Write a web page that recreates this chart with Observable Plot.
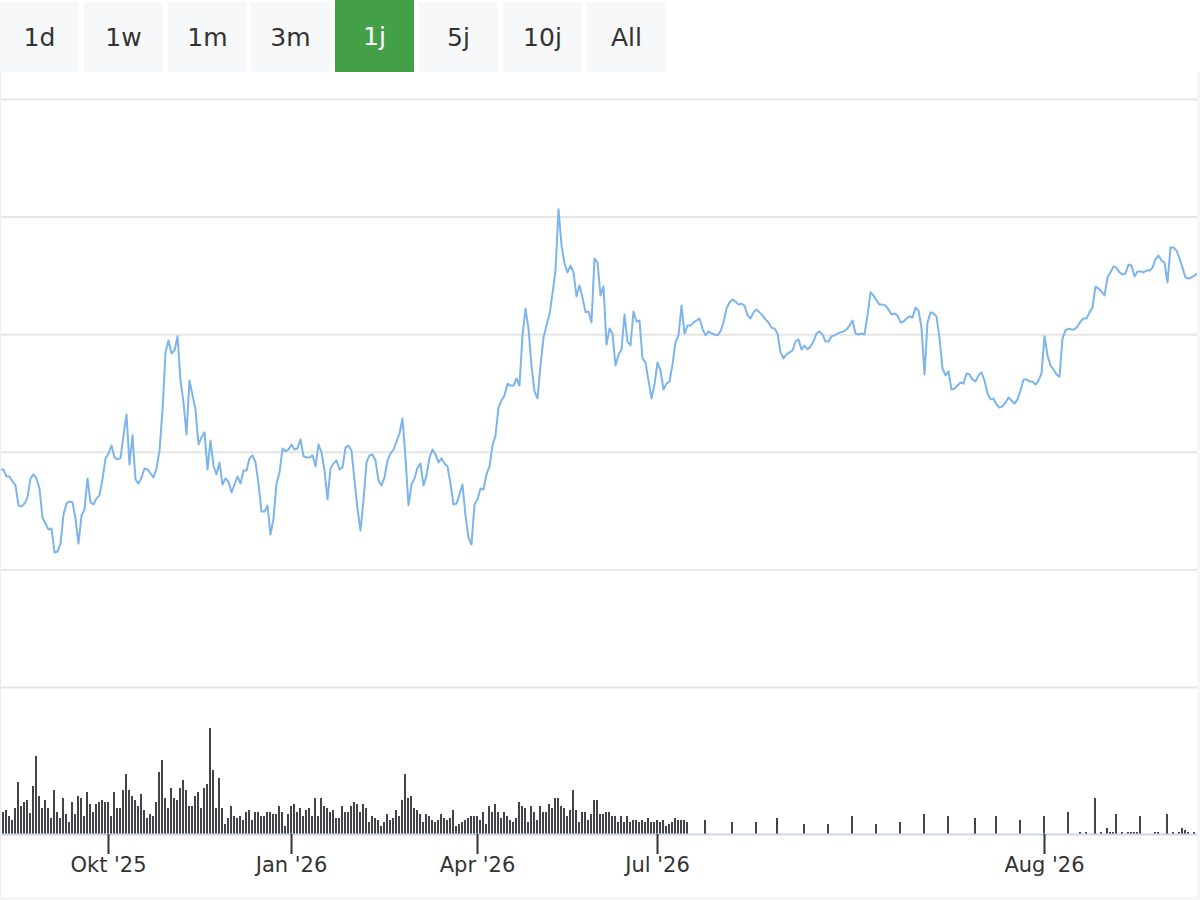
<!DOCTYPE html>
<html>
<head>
<meta charset="utf-8">
<script src="https://cdn.jsdelivr.net/npm/d3@7"></script>
<script src="https://cdn.jsdelivr.net/npm/@observablehq/plot@0.6"></script>
<style>
  html, body { margin: 0; padding: 0; background: #ffffff; }
  #wrap { position: relative; width: 1200px; height: 900px; overflow: hidden; font-family: "DejaVu Sans", sans-serif; }
  #buttons { position: relative; height: 72px; }
  .btn { position: absolute; top: 2px; height: 70px; width: 79px; background: #f7f8f9; color: #333333;
         font-size: 25px; display: flex; align-items: center; justify-content: center; }
  .btn.sel { top: 0; height: 72px; background: #43a047; color: #ffffff; }
  #charts svg { display: block; }
  .edge { position: absolute; background: #f6f6f6; }
</style>
</head>
<body>
<div id="wrap">
  <div id="buttons"></div>
  <div id="charts"></div>
  <div class="edge" style="left:0;top:72px;width:1px;height:828px;background:#ececec"></div>
  <div class="edge" style="right:0;top:72px;width:3px;height:828px"></div>
  <div class="edge" style="left:0;bottom:0;width:1200px;height:3px"></div>
</div>
<script>
// ---- range selector ----
const rangeButtons = ["1d", "1w", "1m", "3m", "1j", "5j", "10j", "All"];
const selectedRange = "1j";

// ---- x axis (ordinal positions) ----
const tickIndex = [36, 97, 159, 219, 348];
const tickLabels = ["Okt '25", "Jan '26", "Apr '26", "Jul '26", "Aug '26"];

// ---- price grid ----
const priceTicks = [20, 25, 30, 35, 40, 45];

// ---- price series (one value per ordinal point) ----
const price = [
  29.27, 29.27, 28.97, 28.97, 28.76, 28.59, 27.74, 27.70, 27.82, 28.08,
  28.89, 29.06, 28.89, 28.46, 27.22, 26.97, 26.72, 26.76, 25.74, 25.78,
  26.12, 27.35, 27.82, 27.91, 27.87, 27.18, 26.12, 27.31, 27.57, 28.89,
  27.87, 27.78, 28.04, 28.17, 28.85, 29.74, 29.95, 30.29, 29.78, 29.70,
  29.74, 30.72, 31.61, 29.48, 30.72, 28.85, 28.67, 28.93, 29.31, 29.27,
  29.10, 28.93, 29.31, 30.08, 31.78, 34.25, 34.75, 34.20, 34.33, 34.93,
  33.05, 32.12, 30.76, 33.05, 32.42, 31.82, 30.33, 30.63, 30.85, 29.27,
  30.50, 29.44, 29.06, 29.57, 28.63, 28.89, 28.76, 28.30, 28.63, 28.97,
  28.67, 29.23, 29.23, 29.74, 29.87, 29.57, 28.67, 27.48, 27.48, 27.74,
  26.50, 27.18, 28.67, 29.14, 30.16, 30.04, 30.12, 30.33, 30.12, 30.16,
  30.55, 29.83, 29.78, 29.78, 29.87, 29.40, 30.33, 30.00, 29.23, 28.00,
  29.31, 29.52, 29.65, 29.27, 29.35, 30.20, 30.29, 30.08, 28.80, 27.61,
  26.67, 27.95, 29.57, 29.87, 29.91, 29.65, 28.80, 28.59, 28.93, 29.65,
  29.95, 30.12, 30.46, 30.80, 31.44, 29.74, 27.74, 28.63, 28.89, 29.35,
  29.52, 28.59, 29.02, 29.78, 30.12, 29.91, 29.57, 29.74, 29.52, 29.40,
  28.67, 27.78, 27.82, 28.21, 28.63, 27.31, 26.37, 26.08, 27.78, 28.00,
  28.46, 28.42, 29.06, 29.40, 30.29, 30.72, 31.90, 32.20, 32.42, 32.92,
  32.84, 32.84, 33.14, 32.84, 34.97, 36.11, 35.26, 33.69, 32.59, 32.29,
  33.69, 34.88, 35.39, 35.86, 36.75, 37.73, 40.33, 38.80, 38.02, 37.65,
  37.94, 37.65, 36.63, 37.09, 36.58, 35.95, 35.99, 35.52, 38.24, 38.07,
  36.67, 37.05, 34.58, 35.26, 35.05, 33.69, 34.16, 34.37, 35.86, 34.71,
  34.54, 35.99, 35.56, 35.60, 33.99, 33.82, 33.05, 32.29, 32.88, 33.82,
  33.48, 32.67, 32.92, 33.01, 33.73, 34.67, 34.97, 36.24, 35.05, 35.39,
  35.39, 35.52, 35.60, 35.69, 35.26, 34.97, 35.14, 35.05, 35.01, 34.97,
  35.14, 35.52, 36.11, 36.37, 36.50, 36.41, 36.28, 36.32, 36.24, 35.82,
  35.69, 35.95, 36.07, 35.95, 35.82, 35.65, 35.52, 35.30, 35.26, 35.05,
  34.25, 33.99, 34.16, 34.25, 34.33, 34.71, 34.80, 34.37, 34.54, 34.37,
  34.50, 34.71, 35.05, 35.14, 35.01, 34.71, 34.71, 34.93, 34.97, 35.05,
  35.10, 35.14, 35.22, 35.39, 35.60, 35.05, 35.01, 35.05, 35.01, 35.82,
  36.80, 36.67, 36.45, 36.28, 36.28, 36.24, 36.07, 35.86, 35.90, 35.82,
  35.52, 35.56, 35.69, 35.78, 35.73, 36.15, 36.03, 35.30, 33.31, 35.52,
  35.95, 35.90, 35.78, 34.84, 33.56, 33.27, 33.44, 32.67, 32.71, 32.84,
  32.97, 32.92, 33.35, 33.31, 33.10, 33.01, 33.27, 33.40, 33.05, 32.50,
  32.25, 32.29, 32.03, 31.90, 31.95, 32.12, 32.33, 32.20, 32.07, 32.25,
  32.63, 33.10, 33.10, 33.01, 33.01, 32.88, 33.05, 33.35, 34.93, 34.12,
  33.69, 33.52, 33.31, 33.22, 34.84, 35.18, 35.26, 35.22, 35.22, 35.35,
  35.56, 35.69, 35.69, 35.95, 36.15, 37.05, 36.96, 36.84, 36.67, 37.43,
  37.65, 37.90, 37.85, 37.65, 37.56, 37.60, 37.98, 37.94, 37.47, 37.69,
  37.69, 37.65, 37.73, 37.73, 37.85, 38.20, 38.37, 38.15, 38.07, 37.22,
  38.71, 38.71, 38.58, 38.24, 37.85, 37.43, 37.39, 37.43, 37.52, 37.60
];

// ---- volume (thousands): daily values from point 0, then sparse late values ----
const volumeDaily = [
  32, 22, 24, 18, 14, 26, 52, 28, 32, 34,
  21, 48, 78, 38, 26, 34, 26, 16, 44, 22,
  16, 36, 20, 12, 32, 20, 38, 36, 18, 42,
  30, 22, 30, 32, 34, 32, 32, 18, 42, 26,
  26, 44, 60, 44, 38, 34, 28, 40, 24, 16,
  20, 18, 32, 62, 74, 36, 26, 46, 36, 34,
  46, 54, 44, 28, 28, 38, 42, 26, 46, 50,
  106, 64, 26, 56, 26, 10, 16, 28, 18, 16,
  18, 14, 22, 24, 14, 22, 22, 18, 18, 22,
  22, 20, 20, 28, 22, 8, 20, 28, 30, 22,
  26, 18, 24, 26, 18, 36, 18, 36, 28, 26,
  22, 24, 16, 16, 28,
  22, 22, 28, 32, 30, 22, 30, 26, 12, 18,
  16, 14, 8, 12, 20, 14, 16, 24, 18, 34,
  60, 36, 38, 26, 24, 20, 12, 20, 18, 14,
  12, 14, 20, 16, 14, 16, 24, 8, 10, 12,
  14, 16, 18, 18, 18, 14, 22, 10, 28, 22,
  30, 22, 16, 22, 18, 14, 12, 16, 32, 28,
  26, 12, 28, 22, 14, 28, 22, 22, 30, 26,
  36, 36, 28, 26, 18, 24, 44, 24, 12, 22,
  22, 14, 20, 34, 34, 20, 20, 22, 22, 18,
  18, 12, 18, 12, 18, 12, 14, 14, 12, 14,
  12, 16, 12, 12, 14, 12, 14, 8, 10, 12,
  16, 14, 14, 14, 12
];
const lateVolumeIndex = [235, 244, 252, 259, 268, 276, 284, 292, 300, 308, 316, 325, 332, 340, 348, 356,
  360, 362, 365, 367, 369, 370, 371, 372, 374, 376, 377, 378, 379, 380, 385, 386, 389, 391, 393, 394, 395, 396, 398];
const lateVolume = [14, 12, 12, 16, 10, 10, 18, 10, 12, 20, 18, 16, 18, 14, 18, 22,
  2, 2, 36, 2, 6, 2, 2, 20, 2, 2, 2, 2, 2, 18, 2, 2, 20, 2, 2, 6, 4, 2, 2];

// ---- build tables ----
const priceData = price.map((v, i) => ({i, v}));
const volData = volumeDaily.map((v, i) => ({i, v}))
  .concat(lateVolumeIndex.map((idx, k) => ({i: idx, v: lateVolume[k]})));
const labelOf = new Map(tickIndex.map((t, k) => [t, tickLabels[k]]));
const xDomain = [0, price.length - 1];

// ---- buttons ----
const bar = document.getElementById("buttons");
rangeButtons.forEach((b, k) => {
  const d = document.createElement("div");
  d.className = "btn" + (b === selectedRange ? " sel" : "");
  d.style.left = Math.round(k * 83.8) + "px";
  d.textContent = b;
  bar.appendChild(d);
});

const common = {
  width: 1200,
  marginLeft: 0,
  marginRight: 3,
  style: {fontFamily: "DejaVu Sans, sans-serif", fontSize: "21px", color: "#333333", background: "transparent", overflow: "visible"}
};

const pricePlot = Plot.plot({
  ...common,
  height: 616,
  marginTop: 27,
  marginBottom: 1,
  x: {domain: xDomain, axis: null},
  y: {domain: [20, 45], axis: null},
  marks: [
    Plot.gridY(priceTicks, {stroke: "#e6e6e6", strokeOpacity: 1, strokeWidth: 2}),
    Plot.line(priceData, {x: "i", y: "v", stroke: "#7cb5ec", strokeWidth: 2, strokeLinejoin: "round"})
  ]
});

const volPlot = Plot.plot({
  ...common,
  height: 212,
  marginTop: 0,
  marginBottom: 66,
  x: {domain: xDomain, axis: null},
  y: {domain: [0, 146], axis: null},
  marks: [
    Plot.ruleX(volData, {x: "i", y1: 0, y2: "v", stroke: "#434348", strokeWidth: 2, dx: -0.5}),
    Plot.ruleY([0], {stroke: "#ccd6eb", strokeWidth: 2}),
    Plot.axisX(tickIndex, {tickSize: 20, tickPadding: 3, tickFormat: d => labelOf.get(d), strokeWidth: 2, fontSize: 21, label: null})
  ]
});

const charts = document.getElementById("charts");
charts.appendChild(pricePlot);
charts.appendChild(volPlot);
</script>
</body>
</html>
